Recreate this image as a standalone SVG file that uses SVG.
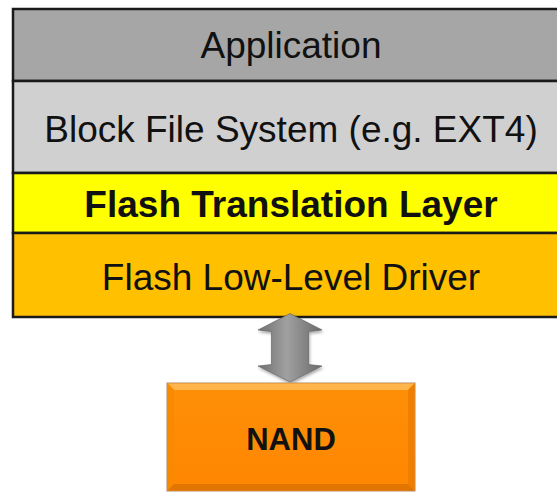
<svg xmlns="http://www.w3.org/2000/svg" width="557" height="494" viewBox="0 0 557 494">
  <defs>
    <style>
      .layer { stroke: #1a1a1a; stroke-width: 2.5; }
      .label { font-family: "Liberation Sans", Arial, sans-serif; font-size: 37px; fill: #111; text-anchor: middle; }
      .bold { font-weight: bold; }
    </style>
    <linearGradient id="arrowFill" x1="0" y1="0" x2="1" y2="0">
      <stop offset="0" stop-color="#6f6f6f"/>
      <stop offset="0.45" stop-color="#a0a0a0"/>
      <stop offset="1" stop-color="#6a6a6a"/>
    </linearGradient>
    <linearGradient id="nandFill" x1="0" y1="0" x2="0" y2="1">
      <stop offset="0" stop-color="#ff8f08"/>
      <stop offset="1" stop-color="#ff8600"/>
    </linearGradient>
    <filter id="softShadow" x="-30%" y="-20%" width="160%" height="140%">
      <feGaussianBlur in="SourceAlpha" stdDeviation="1.5"/>
      <feOffset dx="1" dy="1.5" result="b"/>
      <feComponentTransfer><feFuncA type="linear" slope="0.35"/></feComponentTransfer>
      <feMerge><feMergeNode/><feMergeNode in="SourceGraphic"/></feMerge>
    </filter>
  </defs>

  <rect width="557" height="494" fill="#ffffff"/>

  <!-- software stack -->
  <g id="application">
    <rect class="layer" x="13" y="9" width="560" height="72" fill="#a6a6a6"/>
    <text class="label" x="291" y="58">Application</text>
  </g>
  <g id="block-file-system">
    <rect class="layer" x="13" y="81" width="560" height="92" fill="#d0d0d0"/>
    <text class="label" x="291" y="142">Block File System (e.g. EXT4)</text>
  </g>
  <g id="flash-translation-layer">
    <rect class="layer" x="13" y="173" width="560" height="60" fill="#ffff00"/>
    <text class="label bold" x="291" y="217">Flash Translation Layer</text>
  </g>
  <g id="low-level-driver">
    <rect class="layer" x="13" y="233" width="560" height="84" fill="#ffc000"/>
    <text class="label" x="291" y="290">Flash Low-Level Driver</text>
  </g>

  <!-- bidirectional link between driver and NAND -->
  <g id="connectors">
    <path filter="url(#softShadow)" fill="url(#arrowFill)" stroke="#5e5e5e" stroke-width="0.6"
          d="M290,313.5 L322,330 L308.5,331.5 L308.5,364.5 L322,366 L290,382 L258,366 L271.5,364.5 L271.5,331.5 L258,330 Z"/>
  </g>

  <g id="nand">
    <rect x="167" y="383" width="248" height="108" fill="url(#nandFill)" stroke="#b08a6a" stroke-width="1"/>
    <!-- bevel edges -->
    <polygon points="167.5,383.5 414.5,383.5 408,390 174,390" fill="#ffb54a"/>
    <polygon points="167.5,383.5 174,390 174,484 167.5,490.5" fill="#f98a00"/>
    <polygon points="414.5,383.5 414.5,490.5 408,484 408,390" fill="#f07f00"/>
    <polygon points="167.5,490.5 414.5,490.5 408,484 174,484" fill="#e27500"/>
    <text class="label bold" x="291" y="450" style="font-size:31px">NAND</text>
  </g>
</svg>
